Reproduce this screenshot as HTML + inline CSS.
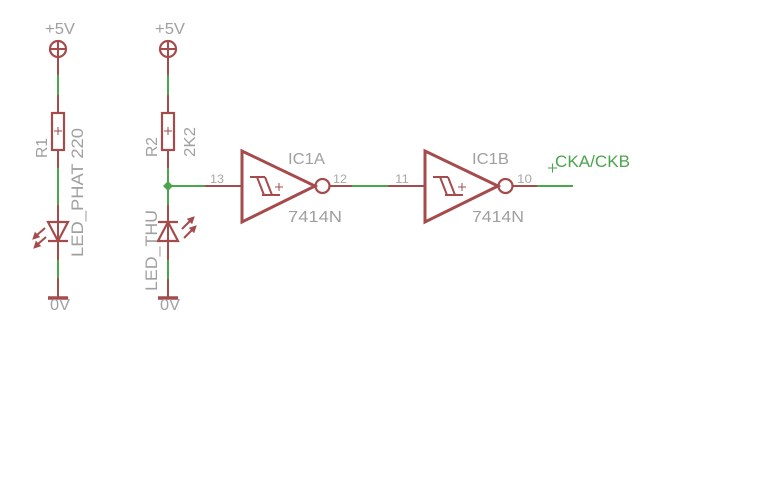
<!DOCTYPE html>
<html>
<head>
<meta charset="utf-8">
<style>
html,body{margin:0;padding:0;background:#fff;}
svg{display:block;}
text{font-family:"Liberation Sans",Arial,sans-serif;}
</style>
</head>
<body>
<svg width="768" height="480" viewBox="0 0 768 480" xmlns="http://www.w3.org/2000/svg">
<rect width="768" height="480" fill="#fff"/>
<g stroke-linecap="butt" fill="none">
<!-- LEFT COLUMN x=58 -->
<circle cx="58" cy="49" r="8" stroke="#a54b4b" stroke-width="2.2"/>
<line x1="50" y1="49" x2="66" y2="49" stroke="#a54b4b" stroke-width="2"/>
<line x1="58" y1="41" x2="58" y2="57" stroke="#a54b4b" stroke-width="2"/>
<line x1="58" y1="57" x2="58" y2="75" stroke="#a54b4b" stroke-width="2"/>
<line x1="58" y1="75" x2="58" y2="95" stroke="#4ba54b" stroke-width="2"/>
<line x1="58" y1="95" x2="58" y2="113" stroke="#a54b4b" stroke-width="2"/>
<rect x="52" y="113" width="12" height="37" stroke="#a54b4b" stroke-width="2.2"/>
<line x1="54" y1="131" x2="62" y2="131" stroke="#a54b4b" stroke-width="1"/>
<line x1="58" y1="127" x2="58" y2="135" stroke="#a54b4b" stroke-width="1"/>
<line x1="58" y1="150" x2="58" y2="168" stroke="#a54b4b" stroke-width="2"/>
<line x1="58" y1="168" x2="58" y2="205" stroke="#4ba54b" stroke-width="2"/>
<line x1="58" y1="205" x2="58" y2="260" stroke="#a54b4b" stroke-width="2"/>
<polygon points="48,222 68,222 58,241" stroke="#a54b4b" stroke-width="2.2"/>
<line x1="48" y1="241" x2="68" y2="241" stroke="#a54b4b" stroke-width="2.2"/>
<line x1="58" y1="260" x2="58" y2="278" stroke="#4ba54b" stroke-width="2"/>
<line x1="58" y1="278" x2="58" y2="297" stroke="#a54b4b" stroke-width="2"/>
<line x1="48" y1="298" x2="68" y2="298" stroke="#a54b4b" stroke-width="3.5"/>
<!-- left LED arrows -->
<line x1="45" y1="228" x2="37" y2="235" stroke="#a54b4b" stroke-width="2"/>
<polygon points="33,239 39.3,236.9 35.1,232.7" fill="#a54b4b" stroke="#a54b4b" stroke-width="1"/>
<line x1="46" y1="237" x2="38" y2="244" stroke="#a54b4b" stroke-width="2"/>
<polygon points="34,248 40.3,245.9 36.1,241.7" fill="#a54b4b" stroke="#a54b4b" stroke-width="1"/>

<!-- RIGHT COLUMN x=168 -->
<circle cx="168" cy="49" r="8" stroke="#a54b4b" stroke-width="2.2"/>
<line x1="160" y1="49" x2="176" y2="49" stroke="#a54b4b" stroke-width="2"/>
<line x1="168" y1="41" x2="168" y2="57" stroke="#a54b4b" stroke-width="2"/>
<line x1="168" y1="57" x2="168" y2="75" stroke="#a54b4b" stroke-width="2"/>
<line x1="168" y1="75" x2="168" y2="95" stroke="#4ba54b" stroke-width="2"/>
<line x1="168" y1="95" x2="168" y2="113" stroke="#a54b4b" stroke-width="2"/>
<rect x="162" y="113" width="12" height="37" stroke="#a54b4b" stroke-width="2.2"/>
<line x1="164" y1="131" x2="172" y2="131" stroke="#a54b4b" stroke-width="1"/>
<line x1="168" y1="127" x2="168" y2="135" stroke="#a54b4b" stroke-width="1"/>
<line x1="168" y1="150" x2="168" y2="168" stroke="#a54b4b" stroke-width="2"/>
<line x1="168" y1="168" x2="168" y2="205" stroke="#4ba54b" stroke-width="2"/>
<line x1="168" y1="186" x2="205" y2="186" stroke="#4ba54b" stroke-width="2"/>
<polygon points="168,181 173,186 168,191 163,186" fill="#4ba54b" stroke="none"/>
<line x1="168" y1="205" x2="168" y2="260" stroke="#a54b4b" stroke-width="2"/>
<polygon points="158,241 178,241 168,222" stroke="#a54b4b" stroke-width="2.2"/>
<line x1="158" y1="222" x2="178" y2="222" stroke="#a54b4b" stroke-width="2.2"/>
<line x1="168" y1="260" x2="168" y2="279" stroke="#4ba54b" stroke-width="2"/>
<line x1="168" y1="279" x2="168" y2="297" stroke="#a54b4b" stroke-width="2"/>
<line x1="158" y1="298" x2="178" y2="298" stroke="#a54b4b" stroke-width="3.5"/>
<!-- right LED arrows -->
<line x1="182" y1="229" x2="190" y2="221" stroke="#a54b4b" stroke-width="2"/>
<polygon points="194,217 187.7,219.1 191.9,223.3" fill="#a54b4b" stroke="#a54b4b" stroke-width="1"/>
<line x1="184" y1="238" x2="192" y2="230" stroke="#a54b4b" stroke-width="2"/>
<polygon points="196,226 189.7,228.1 193.9,232.3" fill="#a54b4b" stroke="#a54b4b" stroke-width="1"/>

<!-- IC1A -->
<line x1="205" y1="186" x2="242" y2="186" stroke="#a54b4b" stroke-width="2"/>
<polygon points="242,151 242,222 315,186" stroke="#a54b4b" stroke-width="3"/>
<circle cx="322.5" cy="186" r="7" stroke="#a54b4b" stroke-width="2.2"/>
<line x1="329.5" y1="186" x2="352" y2="186" stroke="#a54b4b" stroke-width="2"/>
<line x1="352" y1="186" x2="388" y2="186" stroke="#4ba54b" stroke-width="2"/>
<polyline points="250,177 265,177" stroke="#a54b4b" stroke-width="2"/>
<line x1="257" y1="177" x2="264" y2="195" stroke="#a54b4b" stroke-width="2"/>
<line x1="265" y1="177" x2="272" y2="195" stroke="#a54b4b" stroke-width="2"/>
<line x1="262" y1="195" x2="280" y2="195" stroke="#a54b4b" stroke-width="2"/>
<line x1="275" y1="187" x2="283" y2="187" stroke="#a54b4b" stroke-width="1"/>
<line x1="279" y1="183" x2="279" y2="191" stroke="#a54b4b" stroke-width="1"/>

<!-- IC1B -->
<line x1="388" y1="186" x2="425" y2="186" stroke="#a54b4b" stroke-width="2"/>
<polygon points="425,151 425,222 498,186" stroke="#a54b4b" stroke-width="3"/>
<circle cx="505.5" cy="186" r="7" stroke="#a54b4b" stroke-width="2.2"/>
<line x1="512.5" y1="186" x2="537" y2="186" stroke="#a54b4b" stroke-width="2"/>
<line x1="537" y1="186" x2="573" y2="186" stroke="#4ba54b" stroke-width="2"/>
<polyline points="433,177 448,177" stroke="#a54b4b" stroke-width="2"/>
<line x1="440" y1="177" x2="447" y2="195" stroke="#a54b4b" stroke-width="2"/>
<line x1="448" y1="177" x2="455" y2="195" stroke="#a54b4b" stroke-width="2"/>
<line x1="445" y1="195" x2="463" y2="195" stroke="#a54b4b" stroke-width="2"/>
<line x1="458" y1="187" x2="466" y2="187" stroke="#a54b4b" stroke-width="1"/>
<line x1="462" y1="183" x2="462" y2="191" stroke="#a54b4b" stroke-width="1"/>

<!-- net label cross -->
<line x1="548" y1="168" x2="557" y2="168" stroke="#4ba54b" stroke-width="1"/>
<line x1="552.5" y1="163.5" x2="552.5" y2="172.5" stroke="#4ba54b" stroke-width="1"/>
</g>

<g fill="#a0a0a0" font-size="16">
<text x="45" y="34" textLength="30" lengthAdjust="spacingAndGlyphs">+5V</text>
<text x="155" y="34" textLength="30" lengthAdjust="spacingAndGlyphs">+5V</text>
<text x="50" y="310" textLength="20" lengthAdjust="spacingAndGlyphs">0V</text>
<text x="160" y="310" textLength="20" lengthAdjust="spacingAndGlyphs">0V</text>
<text transform="translate(47,158) rotate(-90)" textLength="20" lengthAdjust="spacingAndGlyphs">R1</text>
<text transform="translate(83,257) rotate(-90)" font-size="17" textLength="129" lengthAdjust="spacingAndGlyphs">LED_PHAT 220</text>
<text transform="translate(157,157) rotate(-90)" textLength="20" lengthAdjust="spacingAndGlyphs">R2</text>
<text transform="translate(195,157) rotate(-90)" textLength="30" lengthAdjust="spacingAndGlyphs">2K2</text>
<text transform="translate(157,291) rotate(-90)" font-size="17" textLength="81" lengthAdjust="spacingAndGlyphs">LED_THU</text>
<text x="288" y="164" textLength="37" lengthAdjust="spacingAndGlyphs">IC1A</text>
<text x="288" y="222" textLength="54" lengthAdjust="spacingAndGlyphs">7414N</text>
<text x="472" y="164" textLength="37" lengthAdjust="spacingAndGlyphs">IC1B</text>
<text x="472" y="222" textLength="52" lengthAdjust="spacingAndGlyphs">7414N</text>
</g>
<g fill="#a8a8a8" font-size="12">
<text x="210" y="183" textLength="14" lengthAdjust="spacingAndGlyphs">13</text>
<text x="333" y="183" textLength="14" lengthAdjust="spacingAndGlyphs">12</text>
<text x="395" y="183" textLength="14" lengthAdjust="spacingAndGlyphs">11</text>
<text x="517" y="183" textLength="15" lengthAdjust="spacingAndGlyphs">10</text>
</g>
<text x="555" y="167" fill="#4ba54b" font-size="17" textLength="75" lengthAdjust="spacingAndGlyphs">CKA/CKB</text>
</svg>
</body>
</html>
